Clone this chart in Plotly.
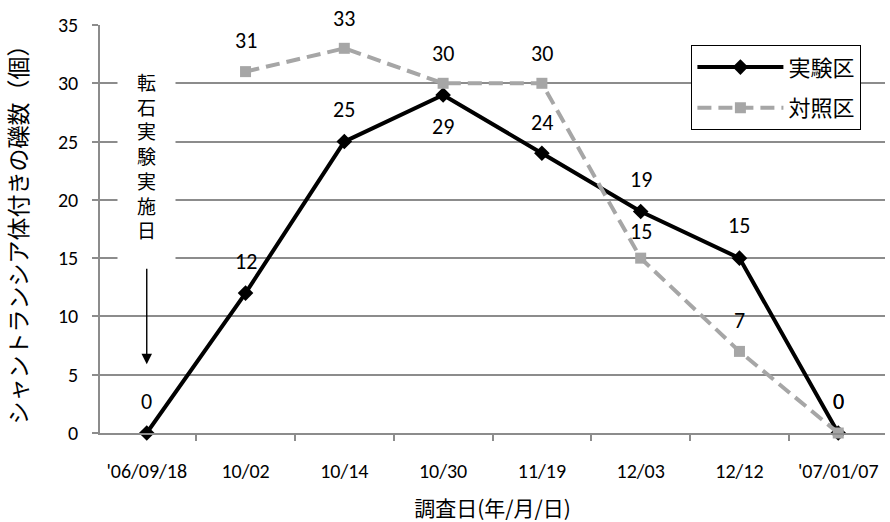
import plotly.graph_objects as go

# Survey dates (category axis) and counts per plot
dates = ["'06/09/18", "10/02", "10/14", "10/30", "11/19", "12/03", "12/12", "'07/01/07"]
exp_counts = [0, 12, 25, 29, 24, 19, 15, 0]          # 実験区
ctrl_counts = [None, 31, 33, 30, 30, 15, 7, 0]       # 対照区
y_ticks = [0, 5, 10, 15, 20, 25, 30, 35]

# vertical pixel offsets of the value labels (positive = above the point)
exp_label_shift = [32, 32, 32, -32, 31, 32, 33, 32]
ctrl_label_shift = [None, 31, 30, 30, 30, 27, 31, 32]

LAT = "Carlito, Lato, sans-serif"
JP = "'Noto Sans CJK JP', sans-serif"
GRID = "#8c8c8c"

fig = go.Figure()
fig.add_trace(go.Scatter(
    x=dates, y=exp_counts, name="実験区", mode="lines+markers",
    legendgroup="exp",
    line=dict(color="black", width=4),
    marker=dict(symbol="diamond", size=12, color="black"),
    cliponaxis=False,
))
fig.add_trace(go.Scatter(
    x=dates, y=ctrl_counts, name="対照区", mode="lines+markers",
    legendgroup="ctrl",
    line=dict(color="#a6a6a6", width=4, dash="14px,7px"),
    marker=dict(symbol="square", size=11, color="#a6a6a6"),
    cliponaxis=False,
))

annotations = []
for d, v, s in zip(dates, exp_counts, exp_label_shift):
    annotations.append(dict(x=d, y=v, text=str(v), showarrow=False, yshift=s,
                            font=dict(family=LAT, size=22, color="black")))
for d, v, s in zip(dates, ctrl_counts, ctrl_label_shift):
    if v is None:
        continue
    annotations.append(dict(x=d, y=v, text=str(v), showarrow=False, yshift=s,
                            font=dict(family=LAT, size=22, color="black")))

# vertical note on the start date, with a downward arrow
annotations.append(dict(
    x=dates[0], y=23.8, text="<br>".join("転石実験実施日"), showarrow=False,
    yanchor="middle", bgcolor="white", borderpad=19,
    font=dict(family=JP, size=19, color="black"),
))
annotations.append(dict(
    x=dates[0], y=5.9, ax=0, ay=-97, text="", showarrow=True,
    arrowhead=2, arrowsize=1.5, arrowwidth=1.4, arrowcolor="black",
))

fig.update_layout(
    width=890, height=522,
    margin=dict(l=100, r=5, t=25, b=89),
    paper_bgcolor="white", plot_bgcolor="white",
    font=dict(family=LAT, size=20, color="black"),
    showlegend=True,
    legend=dict(
        x=0.753, y=0.951, xanchor="left", yanchor="top",
        bgcolor="white", bordercolor="black", borderwidth=1.3,
        font=dict(family=JP, size=22), itemwidth=86,
        tracegroupgap=9,
    ),
    annotations=annotations,
    xaxis=dict(
        type="category", categoryorder="array", categoryarray=dates,
        tickson="boundaries", ticks="outside", ticklen=6, tickcolor=GRID, tickwidth=1.5,
        showline=True, linecolor=GRID, linewidth=1.5, showgrid=False,
        tickfont=dict(family=LAT, size=20), tickangle=0, ticklabelstandoff=19,
        automargin=False,
        title=dict(text="調査日(年/月/日)", font=dict(family=JP, size=21), standoff=21),
    ),
    yaxis=dict(
        range=[0, 35], tickvals=y_ticks, ticks="outside", ticklen=6,
        tickcolor=GRID, tickwidth=1.5,
        showline=True, linecolor=GRID, linewidth=1.5,
        showgrid=True, gridcolor=GRID, gridwidth=1.5, zeroline=False,
        tickfont=dict(family=LAT, size=20), ticklabelstandoff=10,
        automargin=False,
        title=dict(text="シャントランシア体付きの礫数（個）", font=dict(family=JP, size=23), standoff=27),
    ),
)

fig.write_html("out.html")
